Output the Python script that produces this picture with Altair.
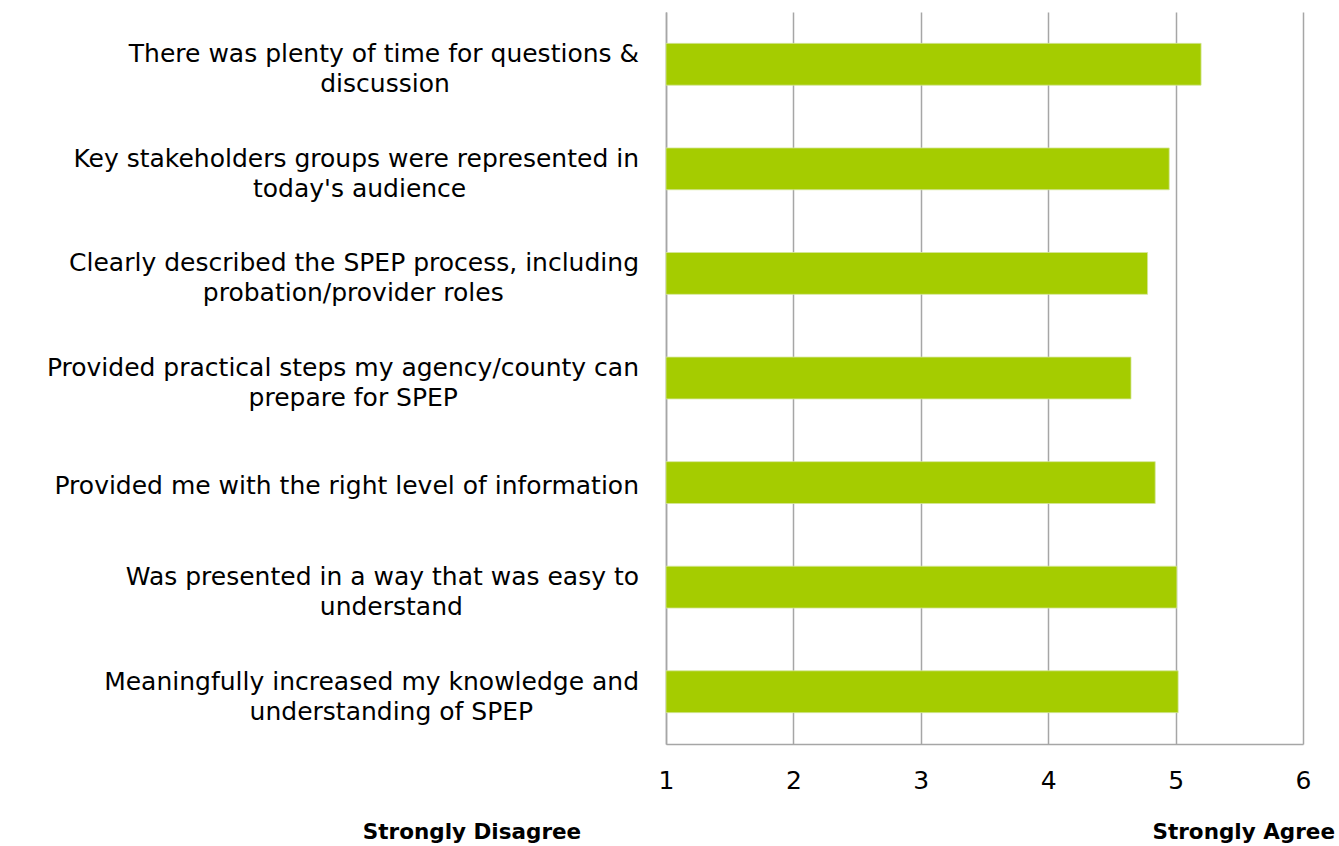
import altair as alt
import pandas as pd

statements = [
    "There was plenty of time for questions &|discussion",
    "Key stakeholders  groups were represented in|today's audience",
    "Clearly described the SPEP process, including|probation/provider roles",
    "Provided practical steps my agency/county can|prepare for SPEP",
    "Provided me with the right level of information",
    "Was presented in a way that was easy to|understand",
    "Meaningfully increased my knowledge and|understanding of SPEP",
]
scores = [5.20, 4.95, 4.78, 4.65, 4.84, 5.01, 5.02]
x_ticks = [1, 2, 3, 4, 5, 6]
scale_ends = ["Strongly Disagree", "Strongly Agree"]

FONT = "DejaVu Sans"
LSIZE = 25
GREEN = "#a5cc00"
GRID = "#a6a6a6"

df = pd.DataFrame({"statement": statements, "score": scores})
order = statements

y_enc = alt.Y("statement:N", sort=order,
              scale=alt.Scale(paddingInner=0.6, paddingOuter=0.3),
              axis=alt.Axis(labels=False, ticks=False, title=None, domain=True,
                            domainColor=GRID, domainWidth=1.5, grid=False))

bars = alt.Chart(df).mark_bar(color=GREEN, stroke="#d4e69a", strokeWidth=0.8).encode(
    x=alt.X("score:Q", scale=alt.Scale(domain=[1, 6], nice=False, zero=False),
            axis=alt.Axis(values=x_ticks, title=None, grid=True, gridColor=GRID,
                          gridWidth=1.5, domainColor=GRID, domainWidth=1.5,
                          ticks=False, labelPadding=24, labelFontSize=25,
                          labelFont=FONT, labelColor="#000000", labelFlush=False,
                          format="d")),
    x2=alt.datum(1),
    y=y_enc,
)

lab = alt.Chart(df).transform_calculate(
    parts="split(datum.statement, '|')",
    line1="datum.parts[0]",
    line2="length(datum.parts) > 1 ? datum.parts[1] : ''",
    two="length(datum.parts) > 1 ? 1 : 0",
)

single = lab.transform_filter("datum.two == 0").mark_text(
    align="right", baseline="middle", font=FONT, fontSize=LSIZE, dy=3,
    color="#000000").encode(
    x=alt.value(-27), y=alt.Y("statement:N", sort=order), text="line1:N")

line1 = lab.transform_filter("datum.two == 1").mark_text(
    align="right", baseline="middle", font=FONT, fontSize=LSIZE, dy=-10,
    color="#000000").encode(
    x=alt.value(-27), y=alt.Y("statement:N", sort=order), text="line1:N")

line2 = lab.transform_filter("datum.two == 1").transform_calculate(
    cx="-27 - length(datum.line1) * 12.7 / 2"
).mark_text(align="center", baseline="middle", font=FONT, fontSize=LSIZE, dy=20,
            color="#000000").encode(
    x=alt.X("cx:Q", scale=None),
    y=alt.Y("statement:N", sort=order),
    text="line2:N",
)

ends = pd.DataFrame({"t": scale_ends, "i": [0, 1]})
end_l = alt.Chart(ends).transform_filter("datum.i == 0").mark_text(
    align="center", baseline="middle", font=FONT, fontSize=21.5, fontWeight="bold",
    color="#000000").encode(x=alt.value(-194), y=alt.value(821), text="t:N")
end_r = alt.Chart(ends).transform_filter("datum.i == 1").mark_text(
    align="right", baseline="middle", font=FONT, fontSize=21.5, fontWeight="bold",
    color="#000000").encode(x=alt.value(669), y=alt.value(821), text="t:N")

chart = alt.layer(bars, single, line1, line2, end_l, end_r).properties(
    width=637, height=732,
    autosize=alt.AutoSizeParams(type="none"),
    padding={"left": 666, "top": 12, "right": 36, "bottom": 102},
    background="white",
).configure_view(stroke=None)

chart.save("out.html", embed_options={"renderer": "svg", "actions": False})
